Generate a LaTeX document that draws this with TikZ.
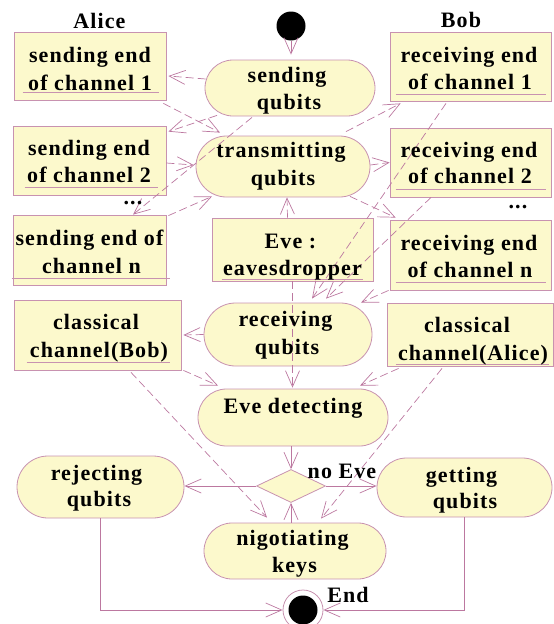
\documentclass[tikz,border=0pt]{standalone}
\usepackage{fontspec}
\setmainfont{Liberation Serif}
\newfontfamily\lblfamily[LetterSpace=5]{Liberation Serif}
\usetikzlibrary{shapes.misc,shapes.geometric,arrows.meta,calc}
\definecolor{boxfill}{RGB}{252,249,204}
\definecolor{edgecol}{RGB}{200,146,176}
\definecolor{flowcol}{RGB}{188,120,160}

\tikzset{
  objbox/.style={draw=edgecol, fill=boxfill, line width=0.8pt, inner sep=0pt, rectangle},
  actbox/.style={draw=edgecol, fill=boxfill, line width=0.8pt, inner sep=0pt, rounded rectangle},
  lbl/.style={font=\lblfamily\bfseries\fontsize{22}{26}\selectfont, anchor=base, inner sep=0pt},
  flow/.style={draw=flowcol, line width=0.7pt, -{Straight Barb[length=16pt,width=14pt]}},
  dflow/.style={flow, dash pattern=on 8pt off 4pt},
  uline/.style={draw=edgecol, line width=0.8pt},
}

\begin{document}
\begin{tikzpicture}[x=1pt,y=-1pt]
\useasboundingbox (0,0) rectangle (554,624);

% ---------- shapes ----------
\node[circle, fill=black, minimum size=29pt, inner sep=0pt] (start) at (291,26) {};

\node[objbox, minimum width=152pt, minimum height=68pt] (s1) at (90,66) {};
\node[objbox, minimum width=153pt, minimum height=69pt] (s2) at (89.5,160.5) {};
\node[objbox, minimum width=153pt, minimum height=70pt] (sn) at (89.5,250) {};
\node[objbox, minimum width=161pt, minimum height=69pt] (r1) at (470.5,66.5) {};
\node[objbox, minimum width=161pt, minimum height=69pt] (r2) at (470.5,162.5) {};
\node[objbox, minimum width=161pt, minimum height=70pt] (rn) at (470.5,255) {};
\node[objbox, minimum width=161pt, minimum height=63pt] (eve) at (292.5,249.5) {};
\node[objbox, minimum width=167pt, minimum height=70pt] (cb) at (97.5,335) {};
\node[objbox, minimum width=166pt, minimum height=63pt] (ca) at (470,334.5) {};

\node[actbox, minimum width=170pt, minimum height=56pt] (sq) at (290,88) {};
\node[actbox, minimum width=174pt, minimum height=61pt] (tq) at (283,166.5) {};
\node[actbox, minimum width=168pt, minimum height=63pt] (rq) at (288,334.5) {};
\node[actbox, minimum width=190pt, minimum height=57pt] (ed) at (293,417.5) {};
\node[actbox, minimum width=167pt, minimum height=62pt] (rj) at (100.5,487) {};
\node[actbox, minimum width=175pt, minimum height=59pt] (gq) at (464.5,487.5) {};
\node[actbox, minimum width=182pt, minimum height=56pt] (nk) at (295,551) {};

\node[diamond, draw=edgecol, fill=boxfill, line width=0.8pt, inner sep=0pt,
      minimum width=69pt, minimum height=33pt] (dia) at (291,486) {};

\node[circle, draw=edgecol, fill=white, line width=0.8pt, minimum size=40pt, inner sep=0pt] (end) at (303,610) {};
\node[circle, fill=black, minimum size=29pt, inner sep=0pt] (enddot) at (end) {};

% ---------- underlines of the object boxes ----------
\draw[uline] ($(s1.south west)+(9,-8)$) -- ($(s1.south east)+(-7,-8)$);
\draw[uline] ($(r1.south west)+(6,-7)$) -- ($(r1.south east)+(-5,-7)$);
\draw[uline] ($(s2.south west)+(12,-8)$) -- ($(s2.south east)+(-8,-8)$);
\draw[uline] ($(r2.south west)+(6,-8)$) -- ($(r2.south east)+(-5,-8)$);
\draw[uline] ($(sn.south west)+(-1,-7)$) -- ($(sn.south east)+(4,-7)$);
\draw[uline] ($(rn.south west)+(6,-8)$) -- ($(rn.south east)+(-5,-8)$);
\draw[uline] ($(eve.south west)+(10,-2)$) -- ($(eve.south east)+(-10,-2)$);
\draw[uline] ($(cb.south west)+(13,-8)$) -- ($(cb.south east)+(-11,-8)$);
\draw[uline] ($(ca.south west)+(9,-2)$) -- ($(ca.south east)+(-4,-2)$);

% ---------- object flows (dashed) ----------
\draw[dflow] ($(sq.west)+(1,-9)$) -- ($(s1.east)+(2,10)$);
\draw[dflow] ($(s1.south east)+(-3,3)$) -- ($(tq.north)+(-63,-3)$);
\draw[dflow] ($(sq.south)+(-73,-1)$) -- ($(s2.north east)+(2,6)$);
\draw[dflow] ($(s2.east)+(0,2.5)$) -- ($(tq.west)+(-2,-1.5)$);
\draw[dflow] ($(sn.north east)+(2,1)$) -- ($(tq.south)+(-71,-1)$);
\draw[dflow] ($(sq.south)+(-38,1)$) -- ($(sn.north)+(43.5,0)$);
\draw[dflow] ($(tq.north)+(63,-4)$) -- ($(r1.south west)+(11,2)$);
\draw[dflow] ($(tq.east)+(0,-1.5)$) -- (r2.west);
\draw[dflow] ($(tq.south)+(67,-1)$) -- ($(rn.north west)+(6,-2)$);
\draw[dflow] ($(eve.north)+(-5,0)$) -- ($(tq.south)+(4,0)$);
\draw[dflow] (eve.south) -- ($(eve.south |- ed.north)+(0,-1)$);
\draw[dflow] ($(r1.south)+(-24.5,2)$) -- ($(rq.north)+(24,-4)$);
\draw[dflow] ($(r2.south)+(-39.5,0)$) -- ($(rq.north)+(38,-4)$);
\draw[dflow] ($(rn.south west)+(-1,0)$) -- ($(rq.north)+(73,0)$);
\draw[dflow] (rq.west) -- ($(cb.east)+(2,0)$);
\draw[dflow] ($(cb.south east)+(2,0)$) -- ($(ed.north)+(-75,-3)$);
\draw[dflow] ($(ca.south west)+(12,2)$) -- ($(ed.north)+(67,-3)$);
\draw[dflow] ($(cb.south)+(33.5,2)$) -- ($(nk.north)+(-28,-5)$);
\draw[dflow] ($(ca.south)+(-28,2)$) -- ($(nk.north)+(26,-4)$);

% ---------- control flows (solid) ----------
\draw[flow] (start) -- ($(start |- sq.north)+(0,-5)$);
\draw[flow] (dia.north |- ed.south) -- (dia.north);
\draw[flow] (dia.west) -- (dia.west -| rj.east);
\draw[flow] (dia.east) -- (dia.east -| gq.west);
\draw[flow] (dia.south |- nk.north) -- (dia.south);
\draw[flow] (rj.south) |- (end.west);
\draw[flow] (gq.south) |- (end.east);

% ---------- texts ----------
\node[lbl] (alice) at (99.5,28) {Alice};
\node[lbl] (bob)   at (461,27) {Bob};

\node[lbl] (s1a) at (90,62) {sending end};
\node[lbl] (s1b) at (90,90) {of channel 1};
\node[lbl] (r1a) at (469,62) {receiving end};
\node[lbl] (r1b) at (470,89) {of channel 1};
\node[lbl] (sqa) at (287,82) {sending};
\node[lbl] (sqb) at (289,109) {qubits};
\node[lbl] (tqa) at (281,157) {transmitting};
\node[lbl] (tqb) at (283,185) {qubits};
\node[lbl] (s2a) at (89,155) {sending end};
\node[lbl] (s2b) at (89,182) {of channel 2};
\node[lbl] (r2a) at (469,157) {receiving end};
\node[lbl] (r2b) at (470,183) {of channel 2};
\node[lbl] (dotsl) at (133,204) {...};
\node[lbl] (dotsr) at (518,208) {...};
\node[lbl] (sna) at (89.5,245) {sending end of};
\node[lbl] (snb) at (91.5,273) {channel n};
\node[lbl] (evea) at (290.5,248) {Eve :};
\node[lbl] (eveb) at (292.5,275) {eavesdropper};
\node[lbl] (rna) at (469,250) {receiving end};
\node[lbl] (rnb) at (470,277) {of channel n};
\node[lbl] (cba) at (96,329) {classical};
\node[lbl] (cbb) at (99,357) {channel(Bob)};
\node[lbl] (rqa) at (285.5,326) {receiving};
\node[lbl] (rqb) at (287,354) {qubits};
\node[lbl] (caa) at (467,332) {classical};
\node[lbl] (cab) at (473,360) {channel(Alice)};
\node[lbl] (eda) at (293,413) {Eve detecting};
\node[lbl] (rja) at (96.5,480) {rejecting};
\node[lbl] (rjb) at (99,506) {qubits};
\node[lbl] (gqa) at (461.5,482) {getting};
\node[lbl] (gqb) at (465,508) {qubits};
\node[lbl] (nka) at (292.5,545) {nigotiating};
\node[lbl] (nkb) at (294.5,572) {keys};
\node[lbl] (noeve) at (342,478) {no Eve};
\node[lbl] (endlbl) at (348,602) {End};
\end{tikzpicture}
\end{document}
